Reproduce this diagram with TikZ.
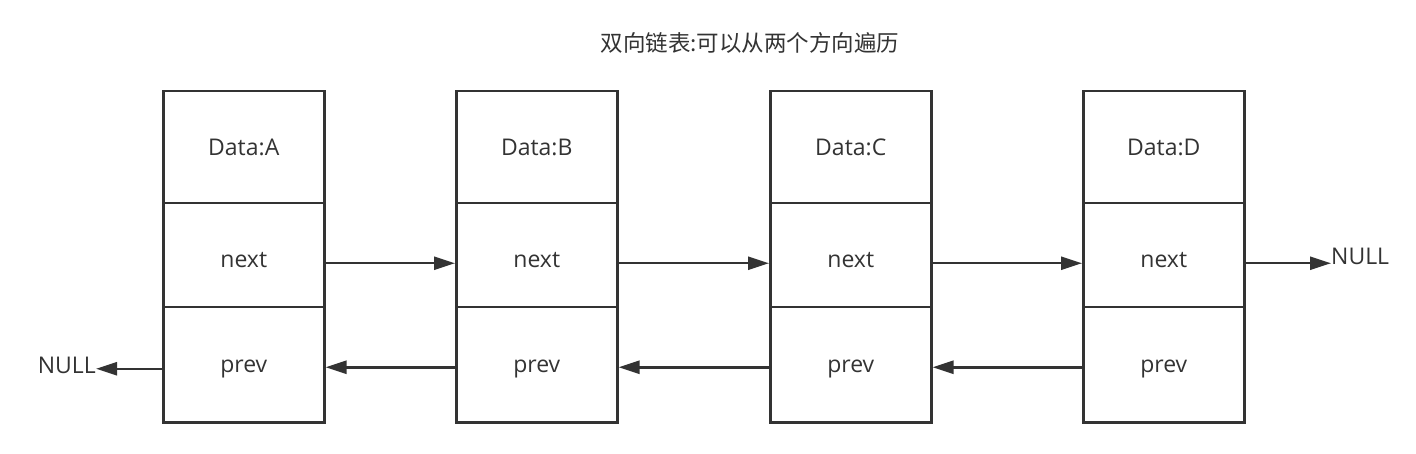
\documentclass[tikz,border=0pt]{standalone}
\usepackage{fontspec}
\setmainfont{Open Sans}
\newfontfamily\cjk{Noto Sans CJK SC}
\usetikzlibrary{positioning,calc,arrows.meta}

\definecolor{ink}{HTML}{333333}

\tikzset{
  cell/.style={draw=ink, line width=2.5pt, minimum width=161pt, minimum height=331pt, inner sep=0pt},
  lbl/.style={anchor=base, text=ink, font=\fontsize{23}{27}\selectfont, inner sep=0pt},
  link/.style={draw=ink, line width=2.5pt, -{Triangle[length=21pt,width=13pt]}},
}

\begin{document}
\begin{tikzpicture}[x=1pt,y=-1pt]
    \useasboundingbox (0,0) rectangle (1416,454);

    % title
    \node[text=ink, font=\cjk\fontsize{22.5}{26}\selectfont] (title) at (750,43) {双向链表:可以从两个方向遍历};

    % list nodes
    \foreach \name/\x in {A/162, B/455, C/769, D/1082}
        {
            \node[cell, anchor=north west] (\name) at (\x, 90) {};
            \draw[ink, line width=2.5pt] ($(\name.north west) + (0, 113)$) -- ($(\name.north east) + (0, 113)$);
            \draw[ink, line width=2.5pt] ($(\name.north west) + (0, 217)$) -- ($(\name.north east) + (0, 217)$);
            \node[lbl] (d\name) at ($(\name.north) + (0, 66)$) {Data:\name};
            \node[lbl] (n\name) at ($(\name.north) + (0, 178)$) {next};
            \node[lbl] (p\name) at ($(\name.north) + (0, 282)$) {prev};
        }

    % next / prev pointers
    \foreach \a/\b in {A/B, B/C, C/D}
        {
            \draw[link] ([yshift=-6.5pt]\a.east) -- ([yshift=-6.5pt]\b.west);
            \draw[link] ([yshift=-110.5pt]\b.west) -- ([yshift=-110.5pt]\a.east);
        }

    % ends
    \node[lbl, anchor=base west] (nullR) at (1331, 265) {NULL};
    \node[lbl, anchor=base east] (nullL) at (96, 373) {NULL};
    \draw[link] ([yshift=-6.5pt]D.east) -- ([yshift=-6.5pt]D.east -| nullR.west);
    \draw[link] ([yshift=-112pt]A.west) -- ([yshift=-112pt]A.west -| nullL.east);
\end{tikzpicture}
\end{document}
